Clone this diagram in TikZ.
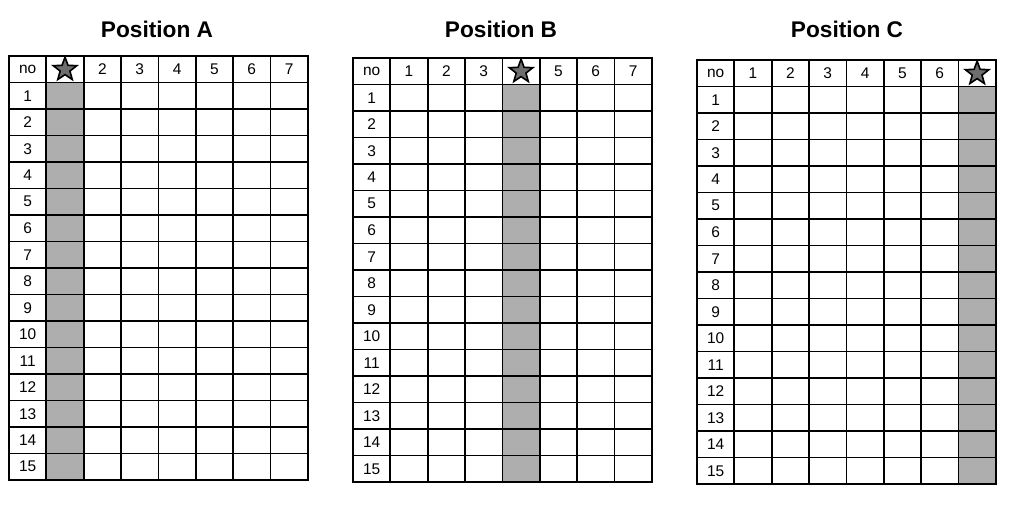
\documentclass[tikz,border=0pt]{standalone}
\usepackage{fontspec}
\setmainfont{Liberation Sans}
\usepackage{xcolor}
\usetikzlibrary{shapes.geometric}
\definecolor{colgray}{RGB}{174,174,174}
\definecolor{starfill}{RGB}{110,110,110}

\begin{document}
\begin{tikzpicture}[
  x=0.75pt, y=-0.75pt,
  title/.style={font=\bfseries\fontsize{17}{20}\selectfont, anchor=base, inner sep=0pt},
  cell/.style={font=\fontsize{11.6}{13}\selectfont, inner sep=0pt},
  gridline/.style={line width=1.35pt, line cap=rect},
  starmark/.style={star, star points=5, star point ratio=2.4, draw, fill=starfill, line width=1.2pt, minimum size=18.5pt, inner sep=0pt}
]
\useasboundingbox (0,0) rectangle (1034,506);

% Three tables: name / left / top / star column / title x
\foreach \tab/\lx/\ty/\s/\tx in {A/9/56/2/157, B/353/58/5/501, C/697/60/8/847}{
  \begin{scope}[shift={(\lx,\ty)}]
    % shaded column
    \fill[colgray] ({(\s-1)*37.35},26.5) rectangle ({\s*37.35},424);
    % grid
    \foreach \c in {0,...,8}
      \draw[gridline] ({\c*37.35},0) -- ({\c*37.35},424);
    \foreach \r in {0,...,16}
      \draw[gridline] (0,{\r*26.5}) -- (298.8,{\r*26.5});
    % header
    \node[cell] (\tab-no) at (18.7,13.25) {no};
    \foreach \c in {2,...,8}{
      \pgfmathtruncatemacro{\lab}{\c-1}
      \ifnum\c=\s
        \node[starmark] (\tab-star) at ({(\c-0.5)*37.35},13.5) {};
      \else
        \node[cell] (\tab-h\lab) at ({(\c-0.5)*37.35},13.25) {\lab};
      \fi
    }
    % row numbers
    \foreach \r in {1,...,15}
      \node[cell] (\tab-r\r) at (18.7,{(\r+0.5)*26.5}) {\r};
  \end{scope}
  \node[title] (title\tab) at (\tx,37.5) {Position \tab};
}

\end{tikzpicture}
\end{document}
